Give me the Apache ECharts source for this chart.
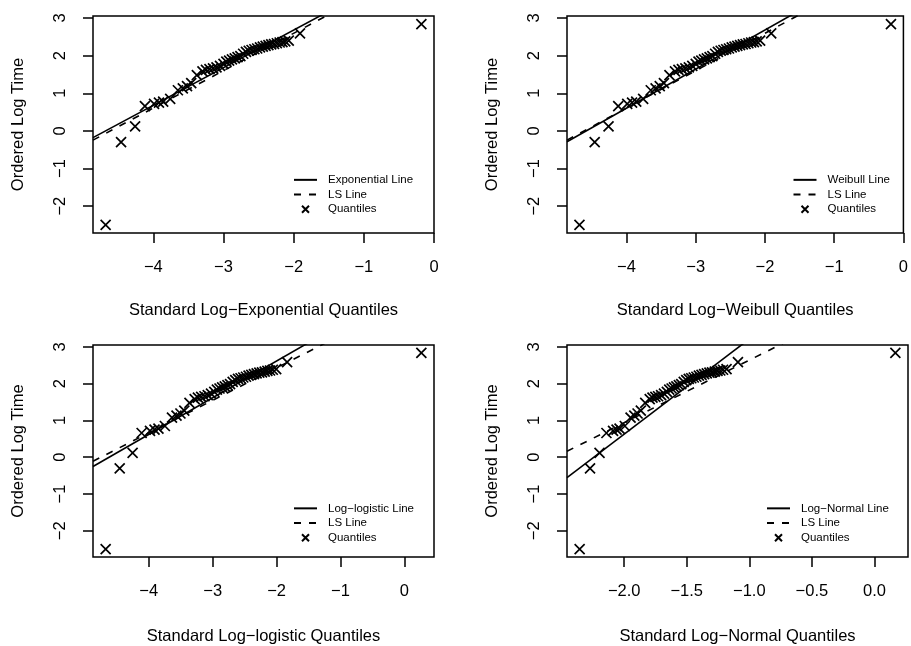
<!DOCTYPE html>
<html>
<head>
<meta charset="utf-8">
<script src="https://cdn.jsdelivr.net/npm/echarts@6/dist/echarts.min.js"></script>
<style>
html,body{margin:0;padding:0;background:#fff;}
#chart{width:911px;height:646px;}
</style>
</head>
<body>
<div id="chart"></div>
<script>
// Ordered log times (shared by all four panels)
const logTime = [-2.50, -0.30, 0.12, 0.66, 0.72, 0.75, 0.78, 0.85, 1.08, 1.13, 1.19, 1.27, 1.48, 1.58, 1.62, 1.64, 1.66, 1.69, 1.73, 1.78, 1.84, 1.87, 1.90, 1.93, 1.96, 1.99, 2.05, 2.10, 2.13, 2.15, 2.17, 2.19, 2.22, 2.24, 2.26, 2.28, 2.30, 2.31, 2.33, 2.35, 2.36, 2.38, 2.40, 2.59, 2.84];

// Standard quantiles for each panel
const expQ = [-4.68, -4.46, -4.26, -4.12, -3.99, -3.92, -3.86, -3.76, -3.65, -3.58, -3.52, -3.46, -3.38, -3.30, -3.25, -3.20, -3.15, -3.10, -3.05, -3.00, -2.96, -2.92, -2.88, -2.84, -2.80, -2.76, -2.72, -2.68, -2.64, -2.60, -2.56, -2.52, -2.48, -2.44, -2.40, -2.36, -2.32, -2.28, -2.24, -2.20, -2.16, -2.12, -2.07, -1.91, -0.18];
const weibullQ = [-4.68, -4.46, -4.26, -4.12, -3.99, -3.92, -3.86, -3.76, -3.65, -3.58, -3.52, -3.46, -3.38, -3.30, -3.25, -3.20, -3.15, -3.10, -3.05, -3.00, -2.96, -2.92, -2.88, -2.84, -2.80, -2.76, -2.72, -2.68, -2.64, -2.60, -2.56, -2.52, -2.48, -2.44, -2.40, -2.36, -2.32, -2.28, -2.24, -2.20, -2.16, -2.12, -2.07, -1.91, -0.18];
const logisQ = [-4.675, -4.455, -4.253, -4.112, -3.981, -3.910, -3.849, -3.748, -3.637, -3.566, -3.505, -3.444, -3.363, -3.282, -3.231, -3.180, -3.128, -3.077, -3.026, -2.975, -2.934, -2.893, -2.852, -2.811, -2.769, -2.728, -2.687, -2.646, -2.604, -2.563, -2.521, -2.479, -2.438, -2.396, -2.354, -2.312, -2.270, -2.228, -2.186, -2.144, -2.102, -2.059, -2.006, -1.835, 0.266];
const normQ = [-2.356, -2.273, -2.197, -2.142, -2.089, -2.061, -2.037, -1.995, -1.949, -1.919, -1.893, -1.867, -1.832, -1.796, -1.774, -1.751, -1.729, -1.705, -1.682, -1.659, -1.640, -1.621, -1.602, -1.583, -1.563, -1.544, -1.524, -1.504, -1.484, -1.464, -1.444, -1.423, -1.403, -1.382, -1.361, -1.340, -1.319, -1.298, -1.276, -1.254, -1.232, -1.210, -1.182, -1.091, 0.167];

// Fitted lines, end points [x, y]
const expLine = [[-4.86, -0.18], [0.0, 4.68]];
const lsLine1 = [[-4.86, -0.246], [0.0, 4.58]];
const weibullLine = [[-4.86, -0.29], [0.0, 4.76]];
const lsLine2 = [[-4.86, -0.246], [0.0, 4.58]];
const logisLine = [[-4.873, -0.253], [0.464, 5.08]];
const lsLine3 = [[-4.873, -0.108], [0.464, 4.61]];
const normLine = [[-2.457, -0.554], [0.268, 6.50]];
const lsLine4 = [[-2.457, 0.163], [0.268, 4.80]];

// Axes
const xTicksA = [-4, -3, -2, -1, 0];
const xTicksN = [-2.0, -1.5, -1.0, -0.5, 0.0];
const yTicks = [-2, -1, 0, 1, 2, 3];
const yRange = [-2.714, 3.054];
const xRanges = [[-4.86, 0.0], [-4.86, 0.0], [-4.873, 0.464], [-2.457, 0.268]];
const xTitles = ['Standard Log\u2212Exponential Quantiles', 'Standard Log\u2212Weibull Quantiles', 'Standard Log\u2212logistic Quantiles', 'Standard Log\u2212Normal Quantiles'];
const yTitle = 'Ordered Log Time';
const fitNames = ['Exponential Line', 'Weibull Line', 'Log\u2212logistic Line', 'Log\u2212Normal Line'];
const lsName = 'LS Line';
const ptName = 'Quantiles';

const FONT = '"Liberation Sans", Arial, Helvetica, sans-serif';
const grids = [
  {left: 93, top: 16, width: 341, height: 217},
  {left: 567, top: 16, width: 341, height: 217},
  {left: 93, top: 345, width: 341, height: 217},
  {left: 567, top: 345, width: 341, height: 217}
];
const legendPos = [[293, 172.5], [792.5, 172.5], [293, 501], [766, 501]];
const qSets = [expQ, weibullQ, logisQ, normQ];
const fitSets = [expLine, weibullLine, logisLine, normLine];
const lsSets = [lsLine1, lsLine2, lsLine3, lsLine4];

const minus = s => String(s).replace('-', '\u2212');
const crossPath = 'path://M0,0L10,10M10,0L0,10';

const option = {
  animation: false,
  backgroundColor: '#fff',
  grid: grids.map(g => Object.assign({show: true, borderColor: '#000', borderWidth: 1.5, backgroundColor: 'transparent'}, g)),
  xAxis: xRanges.map((r, i) => ({
    type: 'value', gridIndex: i, min: r[0], max: r[1],
    name: xTitles[i], nameLocation: 'middle', nameGap: i < 2 ? 69 : 71,
    nameTextStyle: {fontSize: 16.5, color: '#000', fontFamily: FONT},
    axisLine: {show: false, onZero: false},
    splitLine: {show: false},
    axisTick: {show: true, inside: false, length: 10, lineStyle: {color: '#000', width: 1.5},
      customValues: i === 3 ? xTicksN : xTicksA},
    axisLabel: {show: true, margin: 26, fontSize: 16.5, color: '#000', fontFamily: FONT,
      customValues: i === 3 ? xTicksN : xTicksA,
      formatter: v => i === 3 ? minus(Number(v).toFixed(1)) : minus(v)}
  })),
  yAxis: [0, 1, 2, 3].map(i => ({
    type: 'value', gridIndex: i, min: yRange[0], max: yRange[1],
    name: yTitle, nameLocation: 'middle', nameGap: 66, nameRotate: 90,
    nameTextStyle: {fontSize: 16.5, color: '#000', fontFamily: FONT},
    axisLine: {show: false, onZero: false},
    splitLine: {show: false},
    axisTick: {show: true, inside: false, length: 10, lineStyle: {color: '#000', width: 1.5}, customValues: yTicks},
    axisLabel: {show: true, margin: 24, rotate: 90, fontSize: 16.5, color: '#000', fontFamily: FONT,
      customValues: yTicks, formatter: v => minus(v)}
  })),
  legend: legendPos.map((p, i) => ({
    left: p[0], top: p[1], orient: 'vertical', padding: 0, itemGap: 0,
    itemWidth: 23, itemHeight: 7, selectedMode: false,
    data: [
      {name: fitNames[i], itemStyle: {opacity: 0}},
      {name: lsName, itemStyle: {opacity: 0}},
      {name: ptName}
    ],
    textStyle: {fontSize: 11.5, lineHeight: 14.7, color: '#000', fontFamily: FONT, padding: [0, 0, 0, 6]}
  })),
  series: []
};

for (let i = 0; i < 4; i++) {
  option.series.push({
    name: fitNames[i], type: 'line', xAxisIndex: i, yAxisIndex: i,
    data: fitSets[i], symbol: 'none', clip: true, silent: true,
    lineStyle: {color: '#000', width: 1.6, type: 'solid'}, itemStyle: {color: 'rgba(0,0,0,0)'}
  });
  option.series.push({
    name: lsName, type: 'line', xAxisIndex: i, yAxisIndex: i,
    data: lsSets[i], symbol: 'none', clip: true, silent: true,
    lineStyle: {color: '#000', width: 1.6, type: [7, 8]}, itemStyle: {color: 'rgba(0,0,0,0)'}
  });
  option.series.push({
    name: ptName, type: 'scatter', xAxisIndex: i, yAxisIndex: i,
    data: qSets[i].map((q, k) => [q, logTime[k]]),
    symbol: crossPath, symbolSize: 10, silent: true,
    itemStyle: {color: 'rgba(0,0,0,0)', borderColor: '#000', borderWidth: 1.7, opacity: 1}
  });
}

const chart = echarts.init(document.getElementById('chart'), null, {renderer: 'canvas'});
chart.setOption(option);
</script>
</body>
</html>
